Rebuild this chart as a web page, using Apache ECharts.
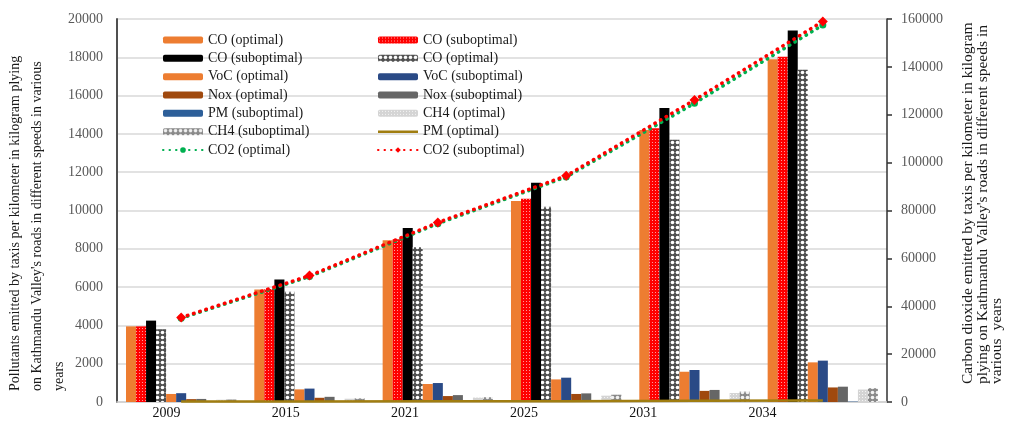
<!DOCTYPE html>
<html>
<head>
<meta charset="utf-8">
<script src="https://cdn.jsdelivr.net/npm/echarts@6/dist/echarts.min.js"></script>
<style>
  html, body { margin: 0; padding: 0; background: #fff; }
  #chart { width: 1018px; height: 427px; }
</style>
</head>
<body>
<div id="chart"></div>
<script>
// Emissions per kilometre of taxis on Kathmandu Valley roads, by year
const categories = ['2009', '2015', '2021', '2025', '2031', '2034'];

const coOptimal      = [3950, 5880, 8450, 10500, 14200, 17900];
const coSubRed       = [3950, 5900, 8500, 10620, 14300, 18030];
const coSubBlack     = [4250, 6400, 9080, 11450, 15350, 19400];
const coOptPattern   = [3800, 5760, 8100, 10200, 13700, 17350];
const vocOptimal     = [420, 660, 940, 1180, 1580, 2070];
const vocSuboptimal  = [460, 700, 990, 1270, 1670, 2160];
const noxOptimal     = [150, 220, 310, 420, 580, 760];
const noxSuboptimal  = [160, 270, 360, 450, 630, 800];
const pmSuboptimal   = [5, 8, 10, 12, 15, 20];
const ch4Optimal     = [120, 170, 230, 330, 470, 650];
const ch4Suboptimal  = [130, 190, 260, 380, 540, 720];
const pmOptimal      = [20, 25, 35, 45, 60, 75];
const co2Optimal     = [35000, 52400, 74500, 94000, 124800, 157500];
const co2Suboptimal  = [35300, 52800, 75000, 94500, 126200, 159000];

const leftTicks  = { min: 0, max: 20000, interval: 2000 };
const rightTicks = { min: 0, max: 160000, interval: 20000 };

const FONT = '"Liberation Serif", "Times New Roman", serif';

// small repeating fills for the textured bars
function tile(size, draw) {
  const c = document.createElement('canvas');
  c.width = size; c.height = size;
  draw(c.getContext('2d'));
  return { image: c, repeat: 'repeat' };
}
const redDots = tile(3, g => {
  g.fillStyle = '#ff0000'; g.fillRect(0, 0, 3, 3);
  g.fillStyle = '#ff9a9a'; g.fillRect(1, 1, 1, 1);
});
const spheres = tile(5, g => {
  g.fillStyle = '#505050'; g.fillRect(0, 0, 5, 5);
  g.fillStyle = '#ffffff'; g.beginPath(); g.arc(2.5, 2.5, 1.8, 0, Math.PI * 2); g.fill();
});
const lightDots = tile(3, g => {
  g.fillStyle = '#d4d4d4'; g.fillRect(0, 0, 3, 3);
  g.fillStyle = '#f4f4f4'; g.fillRect(1, 1, 1, 1);
});
const lightSpheres = tile(5, g => {
  g.fillStyle = '#8a8a8a'; g.fillRect(0, 0, 5, 5);
  g.fillStyle = '#f2f2f2'; g.beginPath(); g.arc(2.5, 2.5, 1.8, 0, Math.PI * 2); g.fill();
});

function bar(name, data, color) {
  return {
    name, type: 'bar', data,
    xAxisIndex: 0, yAxisIndex: 0,
    barGap: '0%', barCategoryGap: '14%',
    legendIcon: 'rect',
    itemStyle: { color },
    emphasis: { disabled: true }
  };
}

const series = [
  bar('CO (optimal)', coOptimal, '#ED7D31'),
  bar('CO (suboptimal)', coSubRed, redDots),
  bar('CO (suboptimal) ', coSubBlack, '#000000'),
  bar('CO (optimal) ', coOptPattern, spheres),
  bar('VoC (optimal)', vocOptimal, '#ED7D31'),
  bar('VoC (suboptimal)', vocSuboptimal, '#2A4A86'),
  bar('Nox (optimal)', noxOptimal, '#A0490E'),
  bar('Nox (suboptimal)', noxSuboptimal, '#666666'),
  bar('PM (suboptimal)', pmSuboptimal, '#2D5F99'),
  bar('CH4 (optimal)', ch4Optimal, lightDots),
  bar('CH4 (suboptimal)', ch4Suboptimal, lightSpheres),
  {
    name: 'PM (optimal)', type: 'line', data: pmOptimal,
    xAxisIndex: 0, yAxisIndex: 0, symbol: 'none', z: 3,
    lineStyle: { color: '#A07D10', width: 2.5 },
    itemStyle: { color: '#A07D10' }
  },
  {
    name: 'CO2 (optimal)', type: 'line', data: co2Optimal,
    xAxisIndex: 0, yAxisIndex: 1, z: 4,
    symbol: 'circle', symbolSize: 7,
    lineStyle: { color: '#00B050', width: 3.5, type: [0.5, 6], cap: 'round' },
    itemStyle: { color: '#00B050' }
  },
  {
    name: 'CO2 (suboptimal)', type: 'line', data: co2Suboptimal,
    xAxisIndex: 0, yAxisIndex: 1, z: 5,
    symbol: 'diamond', symbolSize: 10,
    lineStyle: { color: '#FF0000', width: 3.5, type: [0.5, 6], cap: 'round' },
    itemStyle: { color: '#FF0000' }
  }
];

const legendText = { fontFamily: FONT, fontSize: 14, color: '#1a1a1a', lineHeight: 18 };
const legendCommon = {
  orient: 'vertical', top: 31, padding: 0,
  itemWidth: 40, itemHeight: 7, itemGap: 0.33,
  textStyle: legendText, selectedMode: false
};
// thin bar used as the key of the plain PM line
const thinLine = 'path://M0,0 L40,0 L40,2.5 L0,2.5 Z';
const plainNumber = v => String(v);

const option = {
  animation: false,
  backgroundColor: '#ffffff',
  grid: [
    { left: 117, right: 131, top: 19, bottom: 25 },
    { left: 107, width: 715, top: 19, bottom: 25 }
  ],
  legend: [
    Object.assign({ left: 162, data: ['CO (optimal)', 'CO (suboptimal) ', 'VoC (optimal)', 'Nox (optimal)', 'PM (suboptimal)', 'CH4 (suboptimal)', 'CO2 (optimal)'] }, legendCommon),
    Object.assign({ left: 377, data: ['CO (suboptimal)', 'CO (optimal) ', 'VoC (suboptimal)', 'Nox (suboptimal)', 'CH4 (optimal)', { name: 'PM (optimal)', icon: thinLine }, 'CO2 (suboptimal)'] }, legendCommon)
  ],
  xAxis: [
    {
      type: 'category', data: categories, gridIndex: 0,
      axisLine: { lineStyle: { color: '#d0d0d0', width: 1.5 } },
      axisTick: { show: false },
      axisLabel: { show: false }
    },
    {
      type: 'category', data: categories, gridIndex: 1,
      axisLine: { show: false }, axisTick: { show: false },
      axisLabel: { fontFamily: FONT, fontSize: 14, color: '#111', margin: 4 }
    }
  ],
  yAxis: [
    {
      type: 'value', gridIndex: 0, position: 'left',
      min: leftTicks.min, max: leftTicks.max, interval: leftTicks.interval,
      axisLine: { show: true, lineStyle: { color: '#505050', width: 2 } },
      axisTick: { show: false },
      splitLine: { lineStyle: { color: '#d9d9d9', width: 1.5 } },
      axisLabel: { fontFamily: FONT, fontSize: 14, color: '#595959', margin: 14, formatter: plainNumber }
    },
    {
      type: 'value', gridIndex: 0, position: 'right',
      min: rightTicks.min, max: rightTicks.max, interval: rightTicks.interval,
      axisLine: { show: true, lineStyle: { color: '#303030', width: 1.5 } },
      axisTick: { show: true, inside: false, length: 5, lineStyle: { color: '#303030', width: 1.5 } },
      splitLine: { show: false },
      axisLabel: { fontFamily: FONT, fontSize: 14, color: '#595959', margin: 14, formatter: plainNumber }
    },
    {
      type: 'value', gridIndex: 1, show: false
    }
  ],
  graphic: [
    {
      type: 'text', x: 4, y: 391, rotation: Math.PI / 2, silent: true,
      style: {
        text: "Pollutants emitted by taxis per kilometer in kilogram plying\non Kathmandu Valley's roads in different speeds in various\nyears",
        fontFamily: FONT, fontSize: 14, fill: '#1a1a1a', lineHeight: 22,
        textAlign: 'left', textVerticalAlign: 'top'
      }
    },
    {
      type: 'text', x: 961, y: 384, rotation: Math.PI / 2, silent: true,
      style: {
        text: "Carbon dioxide emitted by taxis per kilometer in kilogram\nplying on Kathmandu Valley's roads in different speeds in\nvarious  years",
        fontFamily: FONT, fontSize: 15.5, fill: '#1a1a1a', lineHeight: 14.5,
        textAlign: 'left', textVerticalAlign: 'top'
      }
    }
  ],
  series
};

const chart = echarts.init(document.getElementById('chart'), null, { renderer: 'canvas' });
chart.setOption(option);
</script>
</body>
</html>
